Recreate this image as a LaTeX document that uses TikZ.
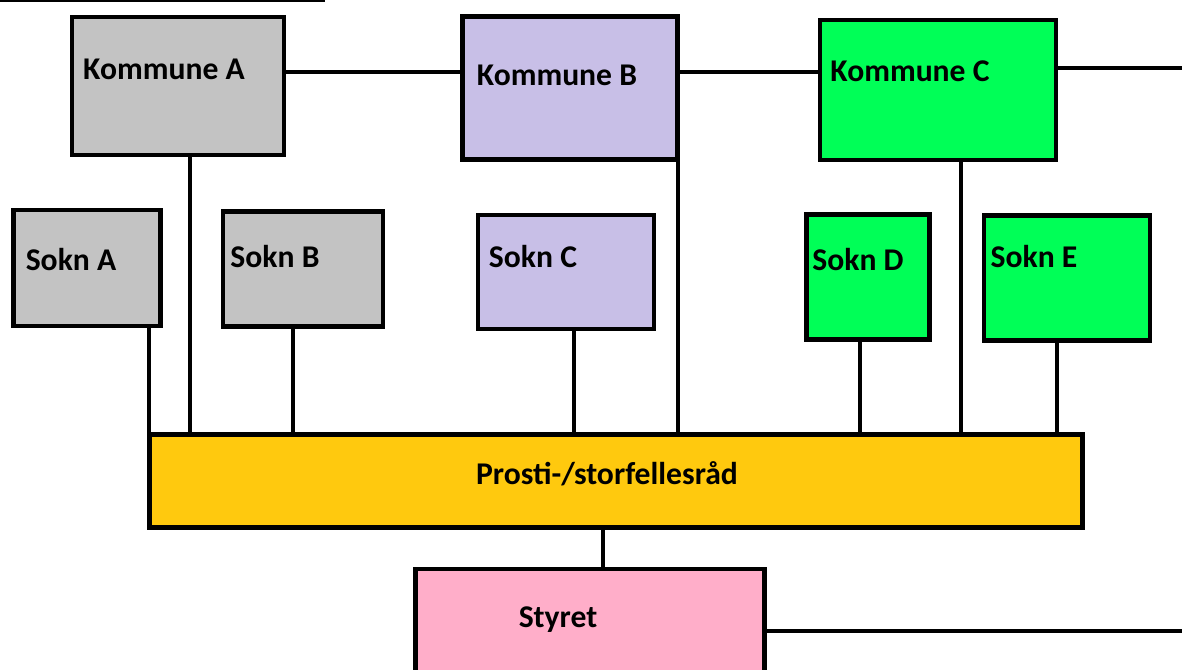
\documentclass[tikz,border=0pt]{standalone}
\usepackage{fontspec}
\setmainfont{Carlito}
\definecolor{gra}{HTML}{C3C3C3}
\definecolor{lilla}{HTML}{C8BFE7}
\definecolor{gronn}{HTML}{00FF57}
\definecolor{gul}{HTML}{FFC90E}
\definecolor{rosa}{HTML}{FFAEC9}
\tikzset{
  boks/.style={rectangle, draw, line width=1.35pt, inner sep=0pt},
  tekst/.style={font=\bfseries\fontsize{9}{10}\selectfont, inner sep=0pt},
  linje/.style={line width=1.3pt}
}
\begin{document}
\begin{tikzpicture}[x=0.01cm, y=-0.01cm]
    \useasboundingbox (0,0) rectangle (1182,669);

    % kommunene
    \node[boks, fill=gra, minimum width=2.12cm, minimum height=1.38cm] (kA) at (178, 86) {};
    \node[boks, fill=lilla, minimum width=2.15cm, minimum height=1.43cm] (kB) at (570, 88) {};
    \node[boks, fill=gronn, minimum width=2.36cm, minimum height=1.40cm] (kC) at (938, 90) {};
    \node[tekst] (kAtxt) at (164, 69) {Kommune A};
    \node[tekst] (kBtxt) at (557, 75) {Kommune B};
    \node[tekst] (kCtxt) at (910, 71) {Kommune C};

    % soknene
    \node[boks, fill=gra, minimum width=1.47cm, minimum height=1.16cm] (sA) at (87, 268) {};
    \node[boks, fill=gra, minimum width=1.60cm, minimum height=1.15cm] (sB) at (303, 269) {};
    \node[boks, fill=lilla, minimum width=1.76cm, minimum height=1.14cm] (sC) at (566, 272) {};
    \node[boks, fill=gronn, minimum width=1.23cm, minimum height=1.25cm] (sD) at (868, 277) {};
    \node[boks, fill=gronn, minimum width=1.66cm, minimum height=1.25cm] (sE) at (1067, 278) {};
    \node[tekst] (sAtxt) at (71, 259) {Sokn A};
    \node[tekst] (sBtxt) at (275, 256) {Sokn B};
    \node[tekst] (sCtxt) at (533, 257) {Sokn C};
    \node[tekst] (sDtxt) at (858, 260) {Sokn D};
    \node[tekst] (sEtxt) at (1034, 257) {Sokn E};

    % fellesrad og styret
    \node[boks, fill=gul, minimum width=9.33cm, minimum height=0.93cm] (pr) at (616, 481) {};
    \node[tekst] (prtxt) at (607, 474) {Prosti-/storfellesråd};
    \node[boks, fill=rosa, minimum width=3.49cm, minimum height=1.30cm] (st) at (590, 634) {};
    \node[tekst] (sttxt) at (558, 620) {Styret};

    % frie ender
    \coordinate (topp) at (325, 0.5);
    \coordinate (hC) at (1182, 68);
    \coordinate (hSt) at (1182, 631);

    % linjer mellom kommunene
    \draw[line width=0.6pt] (0, 0.5) -- (topp);
    \draw[linje] (kA.east |- 0,72) -- (kB.west |- 0,72);
    \draw[linje] (kB.east |- 0,72) -- (kC.west |- 0,72);
    \draw[linje] (kC.east |- hC) -- (hC);

    % linjer ned til fellesradet
    \draw[linje] (sA.south -| 149,0) -- (pr.north -| 149,0);
    \draw[linje] (kA.south -| 190,0) -- (pr.north -| 190,0);
    \draw[linje] (sB.south -| 293,0) -- (pr.north -| 293,0);
    \draw[linje] (sC.south -| 574,0) -- (pr.north -| 574,0);
    \draw[linje] (kB.south -| 678,0) -- (pr.north -| 678,0);
    \draw[linje] (sD.south -| 860,0) -- (pr.north -| 860,0);
    \draw[linje] (kC.south -| 961,0) -- (pr.north -| 961,0);
    \draw[linje] (sE.south -| 1057,0) -- (pr.north -| 1057,0);

    % styret
    \draw[linje] (pr.south -| 603,0) -- (st.north -| 603,0);
    \draw[linje] (st.east |- hSt) -- (hSt);
\end{tikzpicture}
\end{document}
